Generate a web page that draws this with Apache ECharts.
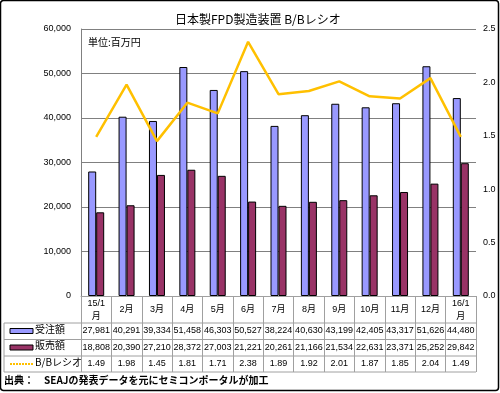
<!DOCTYPE html>
<html><head><meta charset="utf-8">
<script src="https://cdn.jsdelivr.net/npm/echarts@6/dist/echarts.min.js"></script>
<style>html,body{margin:0;padding:0;background:#fff}#c{width:500px;height:393px}</style>
</head><body><div id="c"></div>
<script>
const categories = ['15/1\n月','2月','3月','4月','5月','6月','7月','8月','9月','10月','11月','12月','16/1\n月'];
const orders = [27981,40291,39334,51458,46303,50527,38224,40630,43199,42405,43317,51626,44480];
const sales = [18808,20390,27210,28372,27003,21221,20261,21166,21534,22631,23371,25252,29842];
const bbRatio = [1.49,1.98,1.45,1.81,1.71,2.38,1.89,1.92,2.01,1.87,1.85,2.04,1.49];
const seriesNames = ['受注額','販売額','B/Bレシオ'];
const leftTicks = [0,10000,20000,30000,40000,50000,60000];
const rightTicks = [0,0.5,1.0,1.5,2.0,2.5];

const FONT = 'Liberation Sans, Noto Sans CJK JP, sans-serif';
const JFONT = 'Noto Sans CJK JP, sans-serif';
const G = {left:81, top:29, width:395, height:267};
const tableBottom = 372;
const rowLines = [323, 339.5, 356, 372];
const gray = '#a0a0a0';
const fmt = v => v.toLocaleString('en-US');

const chart = echarts.init(document.getElementById('c'), null, {renderer:'canvas'});

function rowAxis(data, offset){
  return {type:'category', data:data, position:'bottom', offset:offset, gridIndex:0,
    axisLine:{show:false}, axisTick:{show:false}, splitLine:{show:false},
    axisLabel:{interval:0, margin:8, verticalAlign:'middle', fontSize:9, color:'#000', fontFamily:FONT}};
}

const graphics = [];
graphics.push({type:'rect', shape:{x:0.5,y:0.5,width:498,height:390,r:3}, style:{fill:'none', stroke:'#000', lineWidth:1.5}, silent:true});
graphics.push({type:'text', left:88, top:37, style:{text:'単位:百万円', font:'10px '+JFONT, fill:'#000'}});
rowLines.forEach(y => graphics.push({type:'line', shape:{x1:4,y1:y,x2:G.left+G.width,y2:y}, style:{stroke:gray, lineWidth:1}, silent:true}));
graphics.push({type:'line', shape:{x1:4,y1:rowLines[0],x2:4,y2:tableBottom}, style:{stroke:gray, lineWidth:1}, silent:true});
const rowMid = [331, 347.5, 364];
graphics.push({type:'rect', shape:{x:10,y:rowMid[0]-2.5,width:23,height:5}, style:{fill:'#9999FF', stroke:'#000', lineWidth:1}});
graphics.push({type:'rect', shape:{x:10,y:rowMid[1]-2.5,width:23,height:5}, style:{fill:'#993366', stroke:'#000', lineWidth:1}});
graphics.push({type:'line', shape:{x1:10,y1:rowMid[2],x2:33,y2:rowMid[2]}, style:{stroke:'#FFC000', lineWidth:2, lineDash:[2,1]}});
seriesNames.forEach((n,i) => graphics.push({type:'text', left:35, top:rowMid[i]-7, style:{text:n, font:'10px '+JFONT, fill:'#000'}}));
graphics.push({type:'text', left:4, top:375, style:{text:'出典：　SEAJの発表データを元にセミコンポータルが加工', font:'bold 10px '+JFONT, fill:'#000'}});

chart.setOption({
  animation:false,
  title:{text:'日本製FPD製造装置 B/Bレシオ', left:170, top:8, textStyle:{fontSize:12, fontWeight:'normal', color:'#000', fontFamily:JFONT}},
  grid:{left:G.left, top:G.top, width:G.width, height:G.height},
  xAxis:[
    {type:'category', data:categories, boundaryGap:true,
     axisLine:{lineStyle:{color:gray, width:1}},
     axisTick:{show:true, interval:0, length:tableBottom-(G.top+G.height), lineStyle:{color:gray}},
     axisLabel:{interval:0, margin:14, verticalAlign:'middle', fontSize:9, lineHeight:13, color:'#000', fontFamily:FONT}},
    rowAxis(orders.map(fmt), 27),
    rowAxis(sales.map(fmt), 43.5),
    rowAxis(bbRatio.map(v=>v.toFixed(2)), 60)
  ],
  yAxis:[
    {type:'value', min:leftTicks[0], max:leftTicks[leftTicks.length-1], interval:leftTicks[1]-leftTicks[0],
     axisLine:{show:true, lineStyle:{color:'#808080'}}, axisTick:{show:false},
     splitLine:{lineStyle:{color:'#808080', width:1}},
     axisLabel:{formatter:v=>fmt(v), fontSize:9, color:'#000', margin:10, fontFamily:FONT}},
    {type:'value', min:rightTicks[0], max:rightTicks[rightTicks.length-1], interval:rightTicks[1]-rightTicks[0], position:'right',
     axisLine:{show:false}, axisTick:{show:false}, splitLine:{show:false},
     axisLabel:{formatter:v=>v.toFixed(1), fontSize:9, color:'#000', margin:7, fontFamily:FONT}}
  ],
  series:[
    {name:seriesNames[0], type:'bar', data:orders, barWidth:8, barGap:'0%', itemStyle:{color:'#9999FF', borderColor:'#000', borderWidth:1}},
    {name:seriesNames[1], type:'bar', data:sales, barWidth:8, barGap:'0%', itemStyle:{color:'#993366', borderColor:'#000', borderWidth:1}},
    {name:seriesNames[2], type:'line', yAxisIndex:1, data:bbRatio, symbol:'none', lineStyle:{color:'#FFC000', width:2.5}, z:5}
  ],
  graphic:graphics
});
</script></body></html>
